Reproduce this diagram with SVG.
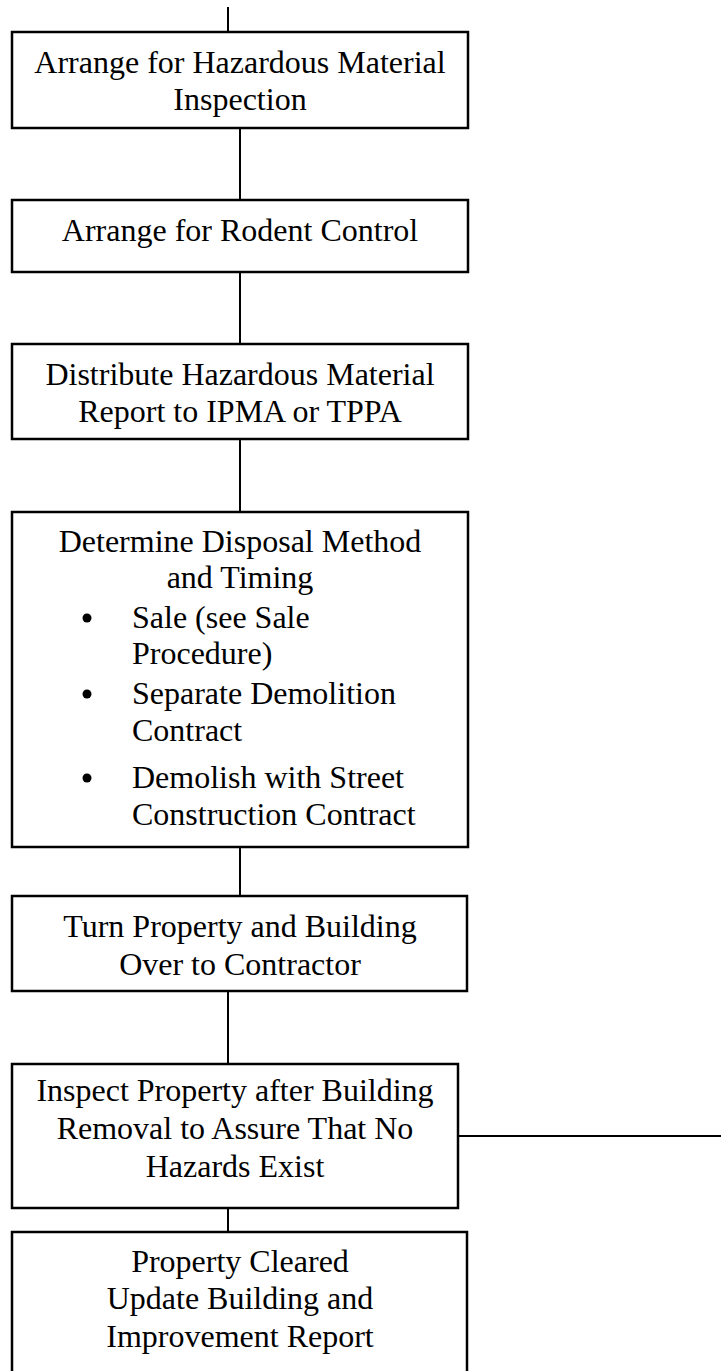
<svg xmlns="http://www.w3.org/2000/svg" width="721" height="1371" viewBox="0 0 721 1371">
  <style>
    .box { fill: #ffffff; stroke: #000000; stroke-width: 2.5; }
    .link { stroke: #000000; stroke-width: 2; fill: none; }
    text { font-family: "Liberation Serif", "Times New Roman", serif; font-size: 32px; fill: #000000; }
    .c { text-anchor: middle; }
    .bullet { fill: #000000; }
  </style>
  <rect width="721" height="1371" fill="#ffffff"/>

  <g id="connectors">
    <line class="link" x1="228" y1="7" x2="228" y2="32"/>
    <line class="link" x1="240" y1="128" x2="240" y2="200"/>
    <line class="link" x1="240" y1="272" x2="240" y2="344"/>
    <line class="link" x1="240" y1="439" x2="240" y2="512"/>
    <line class="link" x1="240" y1="847" x2="240" y2="896"/>
    <line class="link" x1="228" y1="991" x2="228" y2="1064"/>
    <line class="link" x1="228" y1="1208" x2="228" y2="1232"/>
    <line class="link" x1="458" y1="1136" x2="721" y2="1136"/>
  </g>

  <g id="node-hazmat-inspection">
    <rect class="box" x="12" y="32" width="456" height="96"/>
    <text class="c" x="240" y="73">Arrange for Hazardous Material</text>
    <text class="c" x="240" y="110">Inspection</text>
  </g>

  <g id="node-rodent-control">
    <rect class="box" x="12" y="200" width="456" height="72"/>
    <text class="c" x="240" y="241">Arrange for Rodent Control</text>
  </g>

  <g id="node-distribute-report">
    <rect class="box" x="12" y="344" width="456" height="95"/>
    <text class="c" x="240" y="385">Distribute Hazardous Material</text>
    <text class="c" x="240" y="422">Report to IPMA or TPPA</text>
  </g>

  <g id="node-disposal-method">
    <rect class="box" x="12" y="512" width="456" height="335"/>
    <text class="c" x="240" y="552">Determine Disposal Method</text>
    <text class="c" x="240" y="588">and Timing</text>
    <circle class="bullet" cx="87" cy="618" r="4.5"/>
    <text x="132" y="628">Sale (see Sale</text>
    <text x="132" y="664">Procedure)</text>
    <circle class="bullet" cx="87" cy="694" r="4.5"/>
    <text x="132" y="704">Separate Demolition</text>
    <text x="132" y="741">Contract</text>
    <circle class="bullet" cx="87" cy="778" r="4.5"/>
    <text x="132" y="788">Demolish with Street</text>
    <text x="132" y="825">Construction Contract</text>
  </g>

  <g id="node-turn-over">
    <rect class="box" x="12" y="896" width="455" height="95"/>
    <text class="c" x="240" y="937">Turn Property and Building</text>
    <text class="c" x="240" y="975">Over to Contractor</text>
  </g>

  <g id="node-inspect-property">
    <rect class="box" x="12" y="1064" width="446" height="144"/>
    <text class="c" x="235" y="1101">Inspect Property after Building</text>
    <text class="c" x="235" y="1139">Removal to Assure That No</text>
    <text class="c" x="235" y="1177">Hazards Exist</text>
  </g>

  <g id="node-property-cleared">
    <rect class="box" x="12" y="1232" width="455" height="150"/>
    <text class="c" x="240" y="1272">Property Cleared</text>
    <text class="c" x="240" y="1309">Update Building and</text>
    <text class="c" x="240" y="1347">Improvement Report</text>
  </g>
</svg>
